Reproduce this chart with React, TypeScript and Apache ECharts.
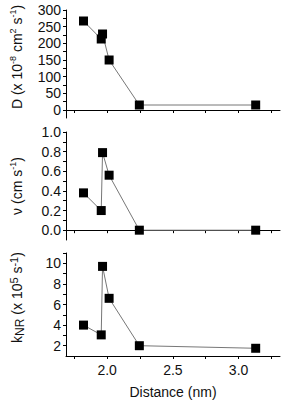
import React, { useEffect, useRef } from "react";
import * as echarts from "echarts";

const distance = [1.82, 1.955, 1.965, 2.015, 2.245, 3.13];
const diffusion = [267, 213, 228, 150, 15, 15];
const velocity = [0.38, 0.2, 0.79, 0.56, 0.0, 0.0];
const kNR = [4.0, 3.05, 9.7, 6.6, 2.0, 1.75];

const xTickValues = [1.75, 2.0, 2.25, 2.5, 2.75, 3.0, 3.25];
const xLabelValues = [2.0, 2.5, 3.0];
const dTicks = [0, 25, 50, 75, 100, 125, 150, 175, 200, 225, 250, 275, 300];
const dLabels = [0, 50, 100, 150, 200, 250, 300];
const vTicks = [0, 0.1, 0.2, 0.3, 0.4, 0.5, 0.6, 0.7, 0.8, 0.9, 1.0];
const vLabels = [0, 0.2, 0.4, 0.6, 0.8, 1.0];
const kTicks = [2, 3, 4, 5, 6, 7, 8, 9, 10, 11];
const kLabels = [2, 4, 6, 8, 10];

const FONT = "'Liberation Sans', Arial, sans-serif";
const TXT = "#111";

export default function App() {
  const ref = useRef<HTMLDivElement>(null);
  useEffect(() => {
    if (!ref.current) return;
    const chart = echarts.init(ref.current, null, { renderer: "svg" });
    const grids = [
      { left: 62, top: 10, width: 218, height: 108 },
      { left: 62, top: 132, width: 218, height: 108 },
      { left: 62, top: 253, width: 218, height: 110 },
    ];
    const axisLine = { show: true, lineStyle: { color: "#000", width: 1 } };
    const xAxes = [0, 1, 2].map((i) => ({
      type: "value",
      gridIndex: i,
      min: 1.687,
      max: 3.315,
      axisLine,
      splitLine: { show: false },
      axisTick: { show: true, length: 3, lineStyle: { color: "#000" }, customValues: xTickValues },
      axisLabel: {
        show: i === 2,
        customValues: xLabelValues,
        formatter: (v: number) => v.toFixed(1),
        fontSize: 14,
        fontFamily: FONT,
        color: TXT,
        margin: 7,
      },
      name: i === 2 ? "Distance (nm)" : "",
      nameLocation: "middle",
      nameGap: 29,
      nameTextStyle: { fontSize: 14, fontFamily: FONT, color: TXT },
    }));
    const mkY = (i: number, min: number, max: number, ticks: number[], labels: number[], fmt: (v: number) => string, name: string, rich: any, pad: number[], gap: number) => ({
      type: "value",
      gridIndex: i,
      min,
      max,
      axisLine,
      splitLine: { show: false },
      axisTick: { show: true, length: 3, lineStyle: { color: "#000" }, customValues: ticks },
      axisLabel: {
        customValues: labels,
        formatter: fmt,
        fontSize: 14,
        fontFamily: FONT,
        color: TXT,
        margin: 5,
      },
      name,
      nameLocation: "middle",
      nameRotate: 90,
      nameGap: gap,
      nameTextStyle: { fontSize: 14, fontFamily: FONT, color: TXT, rich, padding: pad },
    });
    const base = { fontSize: 14, fontFamily: FONT, color: TXT, lineHeight: 18, verticalAlign: "middle" };
    const sup = { fontSize: 9, fontFamily: FONT, color: TXT, lineHeight: 10, verticalAlign: "top" };
    const yAxes = [
      mkY(
        0, -24, 300, dTicks, dLabels, (v) => String(Math.round(v)),
        "{n|D (x 10}{s|-8}{n| cm}{s|2}{n| s}{s|-1}{n|)}",
        { n: base, s: sup }, [0, 0, 0, 14], 40
      ),
      mkY(
        1, -0.1, 1.0, vTicks, vLabels, (v) => v.toFixed(1),
        "{n|ν (cm s}{s|-1}{n|)}",
        { n: base, s: sup }, [0, 0, 0, 0], 40
      ),
      mkY(
        2, 1, 11, kTicks, kLabels, (v) => String(Math.round(v)),
        "{n|k}{b|NR}{n| (x 10}{p|5}{n| s}{p|-1}{n|)}",
        {
          n: base,
          b: { fontSize: 12, fontFamily: FONT, color: TXT, lineHeight: 12, verticalAlign: "bottom" },
          p: { fontSize: 11, fontFamily: FONT, color: TXT, lineHeight: 11, verticalAlign: "top" },
        },
        [0, 0, 0, 14], 40
      ),
    ];
    const seriesData = [diffusion, velocity, kNR];
    const series = seriesData.map((vals, i) => ({
      type: "line",
      xAxisIndex: i,
      yAxisIndex: i,
      data: distance.map((d, j) => [d, vals[j]]),
      symbol: "rect",
      symbolSize: 9,
      itemStyle: { color: "#000" },
      lineStyle: { color: "#777", width: 1 },
      z: 3,
    }));
    chart.setOption({
      animation: false,
      backgroundColor: "#fff",
      grid: grids,
      xAxis: xAxes,
      yAxis: yAxes,
      series,
    });
    return () => chart.dispose();
  }, []);
  return (
    <div
      ref={ref}
      style={{ position: "fixed", left: 0, top: 0, width: 283, height: 400, background: "#fff" }}
    />
  );
}
